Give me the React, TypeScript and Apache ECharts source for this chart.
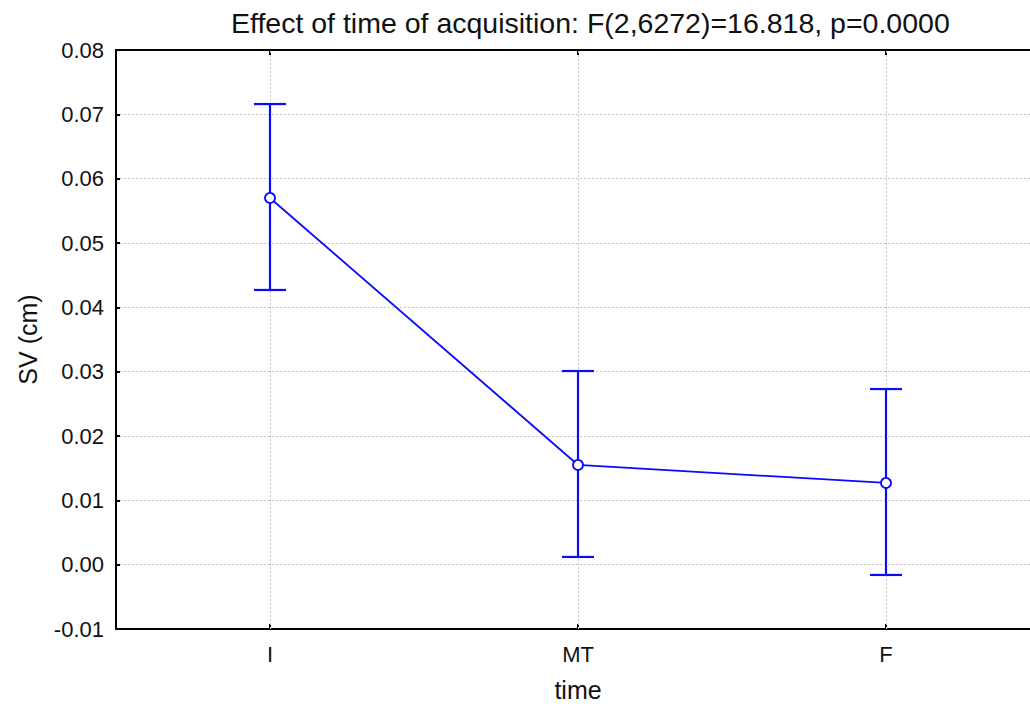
import React, { useEffect, useRef } from "react";
import * as echarts from "echarts";

// Mean SV per acquisition time with confidence interval bounds
const categories = ["I", "MT", "F"];
const means = [0.057, 0.0155, 0.0127];
const lower = [0.0427, 0.0012, -0.0016];
const upper = [0.0716, 0.0301, 0.0273];
const yTicks = { min: -0.01, max: 0.08, interval: 0.01 };

const titleText = "Effect of time of acquisition: F(2,6272)=16.818, p=0.0000";
const FONT = "Liberation Sans, Arial, sans-serif";
const BLUE = "#0a0aff";
const GRID = "#c4c4c4";

export default function App() {
  const ref = useRef<HTMLDivElement>(null);

  useEffect(() => {
    if (!ref.current) return;
    const chart = echarts.init(ref.current, null, { renderer: "svg" });

    const errData = categories.map((_, i) => [i, lower[i], upper[i]]);

    chart.setOption({
      animation: false,
      backgroundColor: "#ffffff",
      textStyle: { fontFamily: FONT },
      title: {
        text: titleText,
        left: 226,
        top: 3,
        textStyle: { fontFamily: FONT, fontSize: 28.5, fontWeight: "normal", color: "#111" },
      },
      // plot area runs past the right edge of the canvas
      grid: {
        left: 116,
        top: 50,
        width: 924,
        height: 579,
        containLabel: false,
        outerBoundsMode: "none",
      },
      xAxis: [
        {
          type: "category",
          data: categories,
          position: "bottom",
          boundaryGap: true,
          name: "time",
          nameLocation: "middle",
          nameGap: 48,
          nameTextStyle: { fontFamily: FONT, fontSize: 25, color: "#111" },
          axisLine: { show: true, onZero: false, lineStyle: { color: "#000", width: 2 } },
          axisTick: { show: true, inside: true, alignWithLabel: true, length: 5, lineStyle: { color: "#000", width: 2 } },
          axisLabel: { fontFamily: FONT, fontSize: 22, color: "#111", margin: 14 },
          splitLine: { show: false },
        },
        {
          type: "category",
          data: categories,
          position: "top",
          boundaryGap: true,
          axisLine: { show: true, onZero: false, lineStyle: { color: "#000", width: 2 } },
          axisTick: { show: true, inside: true, alignWithLabel: true, length: 5, lineStyle: { color: "#000", width: 2 } },
          axisLabel: { show: false },
          splitLine: { show: false },
        },
      ],
      yAxis: {
        type: "value",
        min: yTicks.min,
        max: yTicks.max,
        interval: yTicks.interval,
        name: "SV (cm)",
        nameLocation: "middle",
        nameGap: 76,
        nameRotate: 90,
        nameTextStyle: { fontFamily: FONT, fontSize: 25, color: "#111" },
        axisLine: { show: true, onZero: false, lineStyle: { color: "#000", width: 2 } },
        axisTick: { show: true, inside: true, length: 4, lineStyle: { color: "#000", width: 2 } },
        axisLabel: {
          fontFamily: FONT,
          fontSize: 22,
          color: "#111",
          margin: 12,
          formatter: (v: number) => v.toFixed(2),
        },
        splitLine: { show: true, lineStyle: { color: GRID, type: [2, 2], width: 1 } },
      },
      series: [
        {
          type: "custom",
          name: "CI",
          xAxisIndex: 0,
          data: errData,
          z: 2,
          renderItem: (params: any, api: any) => {
            const x = api.value(0);
            const lo = api.coord([x, api.value(1)]);
            const hi = api.coord([x, api.value(2)]);
            const half = 16;
            const style = { stroke: BLUE, lineWidth: 2.2, fill: "none" };
            return {
              type: "group",
              children: [
                { type: "line", shape: { x1: lo[0], y1: lo[1], x2: hi[0], y2: hi[1] }, style },
                { type: "line", shape: { x1: hi[0] - half, y1: hi[1], x2: hi[0] + half, y2: hi[1] }, style },
                { type: "line", shape: { x1: lo[0] - half, y1: lo[1], x2: lo[0] + half, y2: lo[1] }, style },
              ],
            };
          },
        },
        {
          type: "line",
          name: "SV",
          xAxisIndex: 0,
          data: means,
          z: 3,
          symbol: "circle",
          symbolSize: 10,
          showSymbol: true,
          lineStyle: { color: BLUE, width: 1.8 },
          itemStyle: { color: "#ffffff", borderColor: BLUE, borderWidth: 1.8 },
          // vertical dotted gridlines through each category centre
          markLine: {
            silent: true,
            symbol: "none",
            label: { show: false },
            lineStyle: { color: GRID, type: [2, 2], width: 1 },
            z: 1,
            data: categories.map((c) => ({ xAxis: c })),
          },
        },
      ],
    });

    return () => chart.dispose();
  }, []);

  return (
    <div
      ref={ref}
      style={{ position: "fixed", left: 0, top: 0, width: 1030, height: 707, background: "#fff" }}
    />
  );
}
